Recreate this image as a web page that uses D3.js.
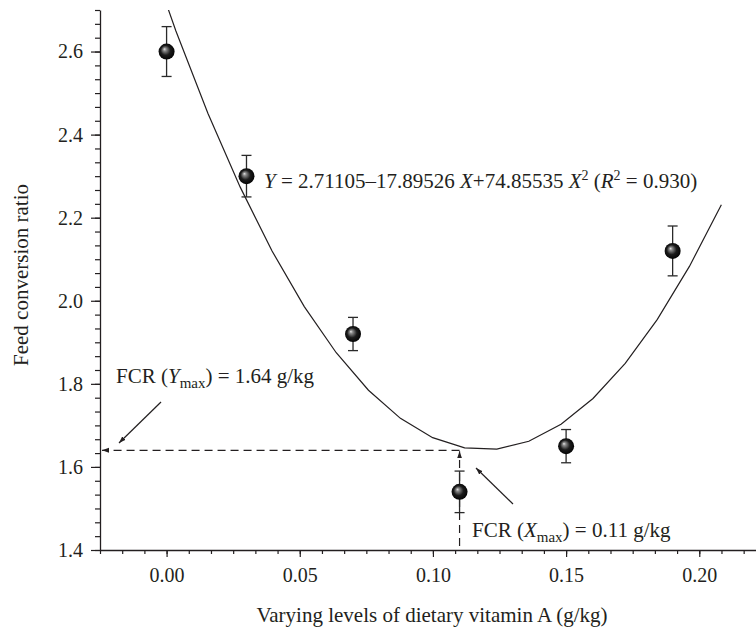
<!DOCTYPE html>
<html>
<head>
<meta charset="utf-8">
<script src="https://cdn.jsdelivr.net/npm/d3@7"></script>
<style>
  html, body { margin: 0; padding: 0; background: #fff; }
  svg { display: block; font-family: "Liberation Serif", "Times New Roman", serif; }
</style>
</head>
<body>
<svg id="chart" width="756" height="633"></svg>
<script>
// Vitamin A levels (g/kg) and mean feed conversion ratio with error (±)
const levels = [0.00, 0.03, 0.07, 0.11, 0.15, 0.19];
const fcr    = [2.60, 2.30, 1.92, 1.54, 1.65, 2.12];
const fcrErr = [0.06, 0.05, 0.04, 0.05, 0.04, 0.06];

// Quadratic fit Y = a + bX + cX^2
const fitCoef = [2.71105, -17.89526, 74.85535];
// X positions at which the fitted curve is sampled
const fitX = [-0.0086, 0.0035, 0.0155, 0.0276, 0.0396, 0.0517, 0.0637, 0.0758,
              0.0878, 0.0999, 0.1119, 0.1240, 0.1360, 0.1481, 0.1601, 0.1722,
              0.1842, 0.1963, 0.2083];

// Optimum read from the fit
const optX = 0.11;
const optY = 1.64;

const xTicks = [0.00, 0.05, 0.10, 0.15, 0.20];
const xTickLabels = ["0.00", "0.05", "0.10", "0.15", "0.20"];
const yTicks = [1.4, 1.6, 1.8, 2.0, 2.2, 2.4, 2.6];
const yTickLabels = ["1.4", "1.6", "1.8", "2.0", "2.2", "2.4", "2.6"];

const svg = d3.select("#chart");
const ink = "#231f20";
const FS = 21;      // annotation / title size
const TFS = 20;     // tick label size

const x = d3.scaleLinear().domain([-0.025, 0.2213]).range([100, 756]);
const y = d3.scaleLinear().domain([1.4, 2.7]).range([550, 10]);

const defs = svg.append("defs");
const grad = defs.append("radialGradient").attr("id", "ball")
  .attr("cx", "50%").attr("cy", "50%").attr("r", "55%")
  .attr("fx", "36%").attr("fy", "34%");
grad.append("stop").attr("offset", "0%").attr("stop-color", "#e6e6e6");
grad.append("stop").attr("offset", "18%").attr("stop-color", "#8a8a8a");
grad.append("stop").attr("offset", "55%").attr("stop-color", "#1c1c1c");
grad.append("stop").attr("offset", "100%").attr("stop-color", "#000");

defs.append("marker").attr("id", "arrow")
  .attr("viewBox", "0 0 10 10").attr("refX", 10).attr("refY", 5)
  .attr("markerWidth", 7).attr("markerHeight", 7)
  .attr("markerUnits", "userSpaceOnUse")
  .attr("orient", "auto")
  .append("path").attr("d", "M0,1.5 L10,5 L0,8.5 Z").attr("fill", ink);

defs.append("clipPath").attr("id", "plotClip")
  .append("rect").attr("x", 100).attr("y", 10).attr("width", 656).attr("height", 540);

// Minor ticks: six subdivisions per major step
const xMinor = d3.range(-0.025, 0.2213, 0.05 / 6);
const yMinor = d3.range(1.4, 2.7001, 0.2 / 6);

function styleAxis(g) {
  g.select(".domain").attr("stroke", ink).attr("stroke-width", 1.3);
  g.selectAll(".tick line").attr("stroke", ink).attr("stroke-width", 1.2);
  g.selectAll(".tick text").attr("fill", ink)
    .style("font-family", "'Liberation Serif', serif").style("font-size", TFS + "px");
}

svg.append("g").attr("transform", "translate(0,550)")
  .call(d3.axisBottom(x).tickValues(xMinor).tickSize(4).tickFormat("").tickSizeOuter(0))
  .call(styleAxis);
svg.append("g").attr("transform", "translate(0,550)")
  .call(d3.axisBottom(x).tickValues(xTicks).tickSize(7).tickPadding(11)
    .tickFormat((d, i) => xTickLabels[i]).tickSizeOuter(0))
  .call(styleAxis)
  .call(g => g.select(".domain").remove());

svg.append("g").attr("transform", "translate(100,0)")
  .call(d3.axisLeft(y).tickValues(yMinor).tickSize(5).tickFormat("").tickSizeOuter(0))
  .call(styleAxis);
svg.append("g").attr("transform", "translate(100,0)")
  .call(d3.axisLeft(y).tickValues(yTicks).tickSize(9).tickPadding(8)
    .tickFormat((d, i) => yTickLabels[i]).tickSizeOuter(0))
  .call(styleAxis)
  .call(g => g.select(".domain").remove());

// Axis titles
svg.append("text")
  .attr("x", 432).attr("y", 622)
  .attr("text-anchor", "middle").attr("fill", ink).style("font-size", FS + "px")
  .text("Varying levels of dietary vitamin A (g/kg)");
svg.append("text")
  .attr("transform", "translate(28,275) rotate(-90)")
  .attr("text-anchor", "middle").attr("fill", ink).style("font-size", FS + "px")
  .text("Feed conversion ratio");

// Fitted curve
const fitFn = v => fitCoef[0] + fitCoef[1] * v + fitCoef[2] * v * v;
svg.append("path")
  .datum(fitX)
  .attr("clip-path", "url(#plotClip)")
  .attr("fill", "none").attr("stroke", ink).attr("stroke-width", 1.2)
  .attr("d", d3.line().x(d => x(d)).y(d => y(fitFn(d))));

// Optimum guide lines
svg.append("line")
  .attr("x1", x(optX)).attr("y1", y(optY)).attr("x2", x(-0.025) + 2).attr("y2", y(optY))
  .attr("stroke", ink).attr("stroke-width", 1.2).attr("stroke-dasharray", "8,5")
  .attr("marker-end", "url(#arrow)");
svg.append("line")
  .attr("x1", x(optX)).attr("y1", y(1.4) - 4).attr("x2", x(optX)).attr("y2", y(optY) + 1)
  .attr("stroke", ink).attr("stroke-width", 1.2).attr("stroke-dasharray", "8,5")
  .attr("marker-end", "url(#arrow)");

// Error bars and points
const pts = levels.map((v, i) => ({ x: v, y: fcr[i], e: fcrErr[i] }));
const eb = svg.append("g").attr("stroke", "#2a2a2a").attr("stroke-width", 1.3);
pts.forEach(p => {
  const cx = x(p.x);
  eb.append("line").attr("x1", cx).attr("x2", cx).attr("y1", y(p.y + p.e)).attr("y2", y(p.y - p.e));
  eb.append("line").attr("x1", cx - 5).attr("x2", cx + 5).attr("y1", y(p.y + p.e)).attr("y2", y(p.y + p.e));
  eb.append("line").attr("x1", cx - 5).attr("x2", cx + 5).attr("y1", y(p.y - p.e)).attr("y2", y(p.y - p.e));
});
svg.append("g").selectAll("circle").data(pts).join("circle")
  .attr("cx", d => x(d.x)).attr("cy", d => y(d.y)).attr("r", 8)
  .attr("fill", "url(#ball)");

// Equation
const eq = svg.append("text").attr("x", 264).attr("y", 188).attr("fill", ink).style("font-size", FS + "px");
eq.append("tspan").style("font-style", "italic").text("Y");
eq.append("tspan").text(" = 2.71105\u201317.89526 ");
eq.append("tspan").style("font-style", "italic").text("X");
eq.append("tspan").text("+74.85535 ");
eq.append("tspan").style("font-style", "italic").text("X");
eq.append("tspan").attr("dy", -8).style("font-size", "14px").text("2");
eq.append("tspan").attr("dy", 8).text(" (");
eq.append("tspan").style("font-style", "italic").text("R");
eq.append("tspan").attr("dy", -8).style("font-size", "14px").text("2");
eq.append("tspan").attr("dy", 8).text(" = 0.930)");

// Optimum labels
function optLabel(tx, ty, sym, value) {
  const t = svg.append("text").attr("x", tx).attr("y", ty).attr("fill", ink).style("font-size", FS + "px");
  t.append("tspan").text("FCR (");
  t.append("tspan").style("font-style", "italic").text(sym);
  t.append("tspan").attr("dy", 5).style("font-size", "15px").text("max");
  t.append("tspan").attr("dy", -5).text(") = " + value + " g/kg");
}
optLabel(116, 383, "Y", optY.toFixed(2));
optLabel(472, 537, "X", optX.toFixed(2));

// Pointer arrows
svg.append("line").attr("x1", 161).attr("y1", 402).attr("x2", 119).attr("y2", 443)
  .attr("stroke", ink).attr("stroke-width", 1.2).attr("marker-end", "url(#arrow)");
svg.append("line").attr("x1", 513).attr("y1", 504).attr("x2", 476).attr("y2", 468)
  .attr("stroke", ink).attr("stroke-width", 1.2).attr("marker-end", "url(#arrow)");
</script>
</body>
</html>
